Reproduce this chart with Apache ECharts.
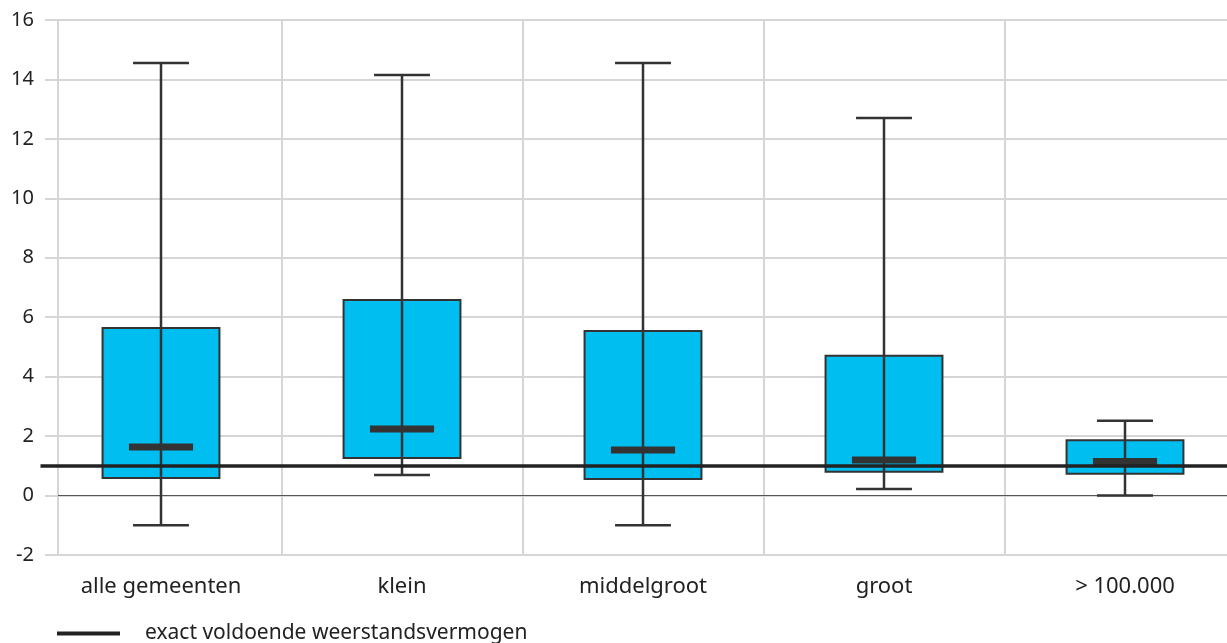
<!DOCTYPE html>
<html><head><meta charset="utf-8">
<script src="https://cdn.jsdelivr.net/npm/echarts@6/dist/echarts.min.js"></script>
<style>html,body{margin:0;padding:0;background:#fff}#c{width:1227px;height:643px}</style>
</head><body><div id="c"></div>
<script>
const categories = ['alle gemeenten', 'klein', 'middelgroot', 'groot', '> 100.000'];
const whiskerLow  = [-1.0, 0.69, -1.0, 0.22, 0.0];
const quartile1   = [0.59, 1.26, 0.56, 0.80, 0.73];
const medianVals  = [1.63, 2.24, 1.53, 1.20, 1.15];
const quartile3   = [5.64, 6.58, 5.54, 4.70, 1.86];
const whiskerHigh = [14.55, 14.15, 14.55, 12.70, 2.52];
const referenceValue = 1;
const referenceName = 'exact voldoende weerstandsvermogen';
const yMin = -2, yMax = 16, yStep = 2;

const FONT = 'Noto Sans';
const boxData = categories.map((c, i) => [i, whiskerLow[i], quartile1[i], medianVals[i], quartile3[i], whiskerHigh[i]]);

const chart = echarts.init(document.getElementById('c'), null, {renderer: 'canvas'});
const grey = '#d6d6d6';
const dark = '#333333';

chart.setOption({
  animation: false,
  backgroundColor: '#ffffff',
  textStyle: {fontFamily: FONT},
  grid: [
    {left: 58, right: 0, top: 20, bottom: 88, outerBoundsMode: 'none'},
    {left: 40.5, width: 1205, top: 20, bottom: 88, outerBoundsMode: 'none', containLabel: false}
  ],
  xAxis: [
    {gridIndex: 0, type: 'value', min: 0, max: 1,
     axisLine: {show: true, onZero: true, lineStyle: {color: '#555', width: 1}},
     axisTick: {show: false}, axisLabel: {show: false}, splitLine: {show: false}},
    {gridIndex: 1, type: 'category', data: categories, boundaryGap: true,
     axisLine: {show: false}, axisTick: {show: false},
     axisLabel: {color: '#222', fontSize: 22, fontFamily: FONT, margin: 21},
     splitLine: {show: true, interval: (i) => i !== 0, lineStyle: {color: grey, width: 2}}}
  ],
  yAxis: [
    {gridIndex: 0, type: 'value', min: yMin, max: yMax, interval: yStep,
     axisLine: {show: true, onZero: false, lineStyle: {color: grey, width: 2}},
     axisTick: {show: true, length: 13, lineStyle: {color: grey, width: 2}},
     axisLabel: {color: '#222', fontSize: 20, fontFamily: FONT, margin: 24},
     splitLine: {show: true, lineStyle: {color: grey, width: 2}}},
    {gridIndex: 1, type: 'value', min: yMin, max: yMax, interval: yStep, show: false,
     splitLine: {show: false}}
  ],
  legend: {
    data: [{name: referenceName, icon: 'rect'}],
    left: 52, top: 618, itemWidth: 63, itemHeight: 4, itemGap: 10,
    textStyle: {color: '#222', fontSize: 21, fontFamily: FONT, padding: [0, 0, 0, 20]}
  },
  series: [
    {
      type: 'custom', name: 'box', xAxisIndex: 1, yAxisIndex: 1, z: 2,
      data: boxData,
      renderItem: function (params, api) {
        const idx = api.value(0);
        const band = api.size([1, 0])[0];
        const x = api.coord([idx, 0])[0];
        const yLow = api.coord([idx, api.value(1)])[1];
        const yQ1 = api.coord([idx, api.value(2)])[1];
        const yMed = api.coord([idx, api.value(3)])[1];
        const yQ3 = api.coord([idx, api.value(4)])[1];
        const yHigh = api.coord([idx, api.value(5)])[1];
        const bw = band * 0.485, mw = band * 0.266, cw = band * 0.232;
        return {
          type: 'group',
          children: [
            {type: 'rect', shape: {x: x - bw / 2, y: yQ3, width: bw, height: yQ1 - yQ3},
             style: {fill: '#01BEF0', stroke: dark, lineWidth: 2}},
            {type: 'line', shape: {x1: x, y1: yHigh, x2: x, y2: yLow},
             style: {stroke: dark, lineWidth: 2.5}},
            {type: 'line', shape: {x1: x - cw / 2, y1: yHigh, x2: x + cw / 2, y2: yHigh},
             style: {stroke: dark, lineWidth: 2.5}},
            {type: 'line', shape: {x1: x - cw / 2, y1: yLow, x2: x + cw / 2, y2: yLow},
             style: {stroke: dark, lineWidth: 2.5}},
            {type: 'rect', shape: {x: x - mw / 2, y: yMed - 3.5, width: mw, height: 7},
             style: {fill: dark}}
          ]
        };
      }
    },
    {
      type: 'line', name: referenceName, xAxisIndex: 1, yAxisIndex: 1, z: 5,
      data: [], itemStyle: {color: '#222'}, lineStyle: {color: '#222', width: 4},
      markLine: {
        silent: true, symbol: ['none', 'none'], label: {show: false},
        lineStyle: {color: '#222', width: 3.5, type: 'solid'},
        data: [{yAxis: referenceValue}]
      }
    }
  ]
});
</script></body></html>
